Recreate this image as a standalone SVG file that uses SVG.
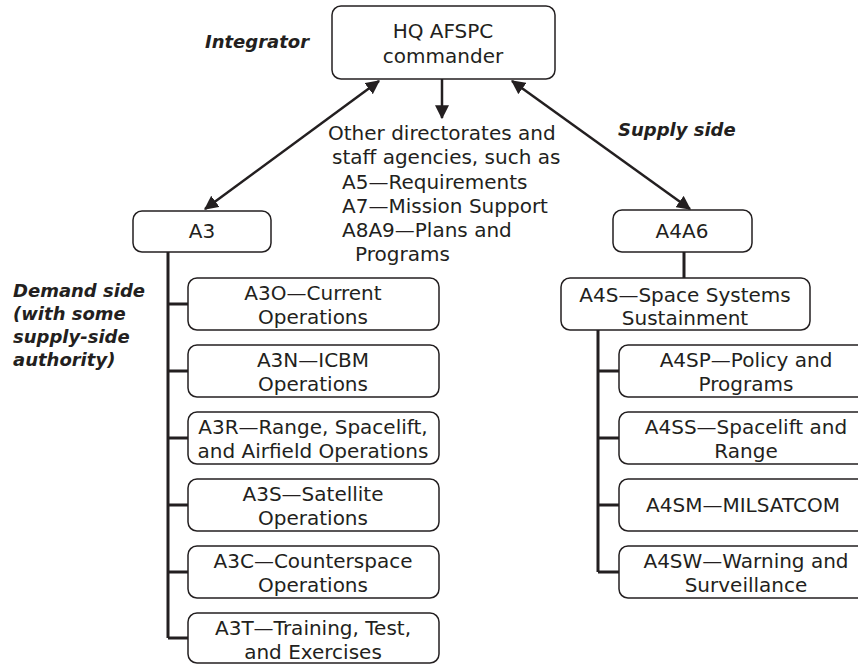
<svg xmlns="http://www.w3.org/2000/svg" width="858" height="665" viewBox="0 0 858 665">
<defs>
<style>
.box{fill:#fff;stroke:#231f20;stroke-width:1.5}
.t{font-family:"DejaVu Sans","Liberation Sans",sans-serif;font-size:20px;fill:#231f20;text-anchor:middle}
.tl{font-family:"DejaVu Sans","Liberation Sans",sans-serif;font-size:20px;fill:#231f20}
.lab{font-family:"DejaVu Sans","Liberation Sans",sans-serif;font-size:18px;font-weight:bold;font-style:italic;fill:#231f20}
.arr{stroke:#231f20;stroke-width:2.5;fill:none}
.tree{stroke:#231f20;stroke-width:3;fill:none}
</style>
<marker id="ah" viewBox="0 0 12 12" refX="11" refY="6" markerWidth="14" markerHeight="14" markerUnits="userSpaceOnUse" orient="auto-start-reverse">
<path d="M0,0 L12,6 L0,12 Z" fill="#231f20"/>
</marker>
</defs>
<rect width="858" height="665" fill="#fff"/>

<g id="connectors">
<line class="arr" x1="379" y1="81" x2="205" y2="209" marker-start="url(#ah)" marker-end="url(#ah)"/>
<line class="arr" x1="512" y1="81" x2="690" y2="209" marker-start="url(#ah)" marker-end="url(#ah)"/>
<line class="arr" x1="442" y1="79" x2="442" y2="118" marker-end="url(#ah)"/>
<path class="tree" d="M168,252 V638 M168,304 H188 M168,371 H188 M168,438 H188 M168,505 H188 M168,572 H188 M168,638 H188"/>
<path class="tree" d="M684,252 V278 M598,330 V572 M598,371 H619 M598,438 H619 M598,505 H619 M598,572 H619"/>
</g>

<g id="labels">
<text class="lab" x="205" y="48">Integrator</text>
<text class="lab" x="618" y="136">Supply side</text>
<text class="lab" x="13" y="297">Demand side</text>
<text class="lab" x="13" y="320">(with some</text>
<text class="lab" x="13" y="343">supply-side</text>
<text class="lab" x="13" y="366">authority)</text>
</g>

<g id="hq">
<rect class="box" x="332" y="6" width="223" height="73" rx="9"/>
<text class="t" x="443" y="38">HQ AFSPC</text>
<text class="t" x="443" y="63">commander</text>
</g>

<g id="other">
<text class="tl" x="328" y="140">Other directorates and</text>
<text class="tl" x="332" y="164">staff agencies, such as</text>
<text class="tl" x="342" y="189">A5—Requirements</text>
<text class="tl" x="342" y="213">A7—Mission Support</text>
<text class="tl" x="342" y="237">A8A9—Plans and</text>
<text class="tl" x="355" y="261">Programs</text>
</g>

<g id="a3">
<rect class="box" x="133" y="211" width="138" height="41" rx="9"/>
<text class="t" x="202" y="238">A3</text>
</g>
<g id="a3o">
<rect class="box" x="188" y="278" width="251" height="52" rx="9"/>
<text class="t" x="313" y="300">A3O—Current</text>
<text class="t" x="313" y="324">Operations</text>
</g>
<g id="a3n">
<rect class="box" x="188" y="345" width="251" height="52" rx="9"/>
<text class="t" x="313" y="367">A3N—ICBM</text>
<text class="t" x="313" y="391">Operations</text>
</g>
<g id="a3r">
<rect class="box" x="188" y="412" width="251" height="52" rx="9"/>
<text class="t" x="313" y="434">A3R—Range, Spacelift,</text>
<text class="t" x="313" y="458">and Airfield Operations</text>
</g>
<g id="a3s">
<rect class="box" x="188" y="479" width="251" height="52" rx="9"/>
<text class="t" x="313" y="501">A3S—Satellite</text>
<text class="t" x="313" y="525">Operations</text>
</g>
<g id="a3c">
<rect class="box" x="188" y="546" width="251" height="52" rx="9"/>
<text class="t" x="313" y="568">A3C—Counterspace</text>
<text class="t" x="313" y="592">Operations</text>
</g>
<g id="a3t">
<rect class="box" x="188" y="613" width="251" height="50" rx="9"/>
<text class="t" x="313" y="635">A3T—Training, Test,</text>
<text class="t" x="313" y="659">and Exercises</text>
</g>

<g id="a4a6">
<rect class="box" x="613" y="210" width="139" height="42" rx="9"/>
<text class="t" x="682" y="238">A4A6</text>
</g>
<g id="a4s">
<rect class="box" x="561" y="278" width="249" height="52" rx="9"/>
<text class="t" x="685" y="302">A4S—Space Systems</text>
<text class="t" x="685" y="325">Sustainment</text>
</g>
<g id="a4sp">
<rect class="box" x="619" y="345" width="250" height="52" rx="9"/>
<text class="t" x="746" y="367">A4SP—Policy and</text>
<text class="t" x="746" y="391">Programs</text>
</g>
<g id="a4ss">
<rect class="box" x="619" y="412" width="250" height="52" rx="9"/>
<text class="t" x="746" y="434">A4SS—Spacelift and</text>
<text class="t" x="746" y="458">Range</text>
</g>
<g id="a4sm">
<rect class="box" x="619" y="479" width="250" height="52" rx="9"/>
<text class="t" x="743" y="512">A4SM—MILSATCOM</text>
</g>
<g id="a4sw">
<rect class="box" x="619" y="546" width="250" height="52" rx="9"/>
<text class="t" x="746" y="568">A4SW—Warning and</text>
<text class="t" x="746" y="592">Surveillance</text>
</g>
</svg>
